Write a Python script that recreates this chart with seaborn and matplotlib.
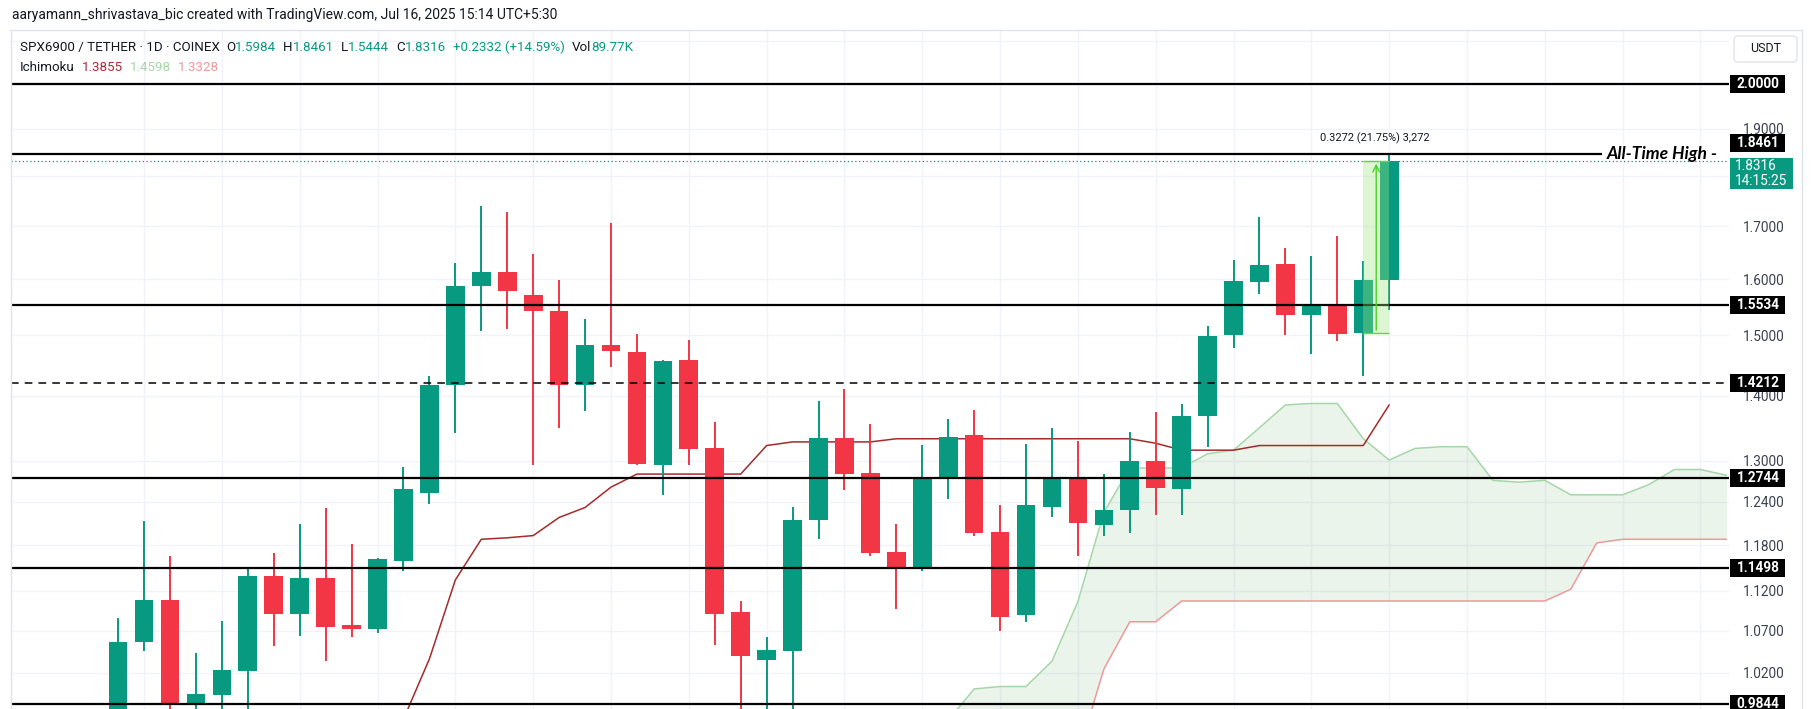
import numpy as np
import matplotlib
matplotlib.use("Agg")
import matplotlib.pyplot as plt
import seaborn as sns
from matplotlib.patches import Rectangle, FancyBboxPatch
from matplotlib.transforms import IdentityTransform
from matplotlib.ticker import FixedLocator, FixedFormatter, NullLocator

# ---------------- data ----------------
opens = [0.960, 1.056, 1.108, 0.983, 0.994, 1.022, 1.139, 1.091, 1.137, 1.077,
         1.072, 1.159, 1.253, 1.417, 1.587, 1.613, 1.571, 1.543, 1.417, 1.484,
         1.472, 1.293, 1.458, 1.319, 1.093, 1.035, 1.045, 1.214, 1.334, 1.282,
         1.171, 1.148, 1.276, 1.339, 1.198, 1.089, 1.232, 1.273, 1.208, 1.229,
         1.300, 1.259, 1.368, 1.500, 1.594, 1.628, 1.535, 1.554, 1.5044, 1.5984]
highs = [1.086, 1.213, 1.165, 1.043, 1.082, 1.150, 1.170, 1.209, 1.231, 1.182,
         1.163, 1.291, 1.432, 1.630, 1.740, 1.728, 1.646, 1.599, 1.529, 1.706,
         1.503, 1.458, 1.492, 1.359, 1.107, 1.062, 1.233, 1.392, 1.411, 1.355,
         1.209, 1.323, 1.364, 1.378, 1.235, 1.325, 1.349, 1.330, 1.280, 1.343,
         1.374, 1.387, 1.517, 1.636, 1.718, 1.658, 1.642, 1.680, 1.633, 1.8461]
lows = [0.930, 1.045, 0.955, 0.950, 0.965, 0.970, 1.051, 1.064, 1.033, 1.062,
        1.067, 1.145, 1.237, 1.341, 1.508, 1.511, 1.294, 1.350, 1.376, 1.447,
        1.294, 1.250, 1.293, 1.053, 0.960, 0.960, 0.965, 1.189, 1.257, 1.165,
        1.097, 1.145, 1.244, 1.192, 1.070, 1.081, 1.218, 1.165, 1.193, 1.197,
        1.222, 1.222, 1.321, 1.479, 1.572, 1.500, 1.469, 1.491, 1.432, 1.5444]
closes = [1.056, 1.108, 0.983, 0.995, 1.023, 1.139, 1.091, 1.137, 1.075, 1.072,
          1.162, 1.258, 1.417, 1.588, 1.613, 1.579, 1.542, 1.417, 1.484, 1.473,
          1.295, 1.457, 1.318, 1.091, 1.040, 1.047, 1.215, 1.334, 1.280, 1.169,
          1.148, 1.273, 1.336, 1.197, 1.087, 1.235, 1.273, 1.210, 1.228, 1.300,
          1.260, 1.368, 1.499, 1.597, 1.626, 1.535, 1.555, 1.503, 1.5984, 1.8316]

base_start = 10
base_line = [0.930, 0.967, 1.036, 1.134, 1.188, 1.190, 1.193, 1.218, 1.232, 1.261,
             1.280, 1.280, 1.280, 1.280, 1.280, 1.3225, 1.328, 1.328, 1.328, 1.328,
             1.3328, 1.3328, 1.3328, 1.3328, 1.3328, 1.3328, 1.3328, 1.3328, 1.3328, 1.3328,
             1.326, 1.3155, 1.3155, 1.3155, 1.3225, 1.3225, 1.3225, 1.3225, 1.3225, 1.3855]

span_start = 32
span_a = [0.9657, 1.001, 1.0038, 1.0038, 1.0333, 1.1062, 1.225, 1.2889, 1.2889, 1.2889,
          1.3101, 1.3155, 1.3497, 1.3854, 1.3877, 1.3877, 1.333, 1.3007, 1.3181, 1.3207,
          1.3207, 1.2709, 1.2682, 1.2709, 1.250, 1.250, 1.250, 1.2645, 1.2867, 1.2867, 1.2783]
span_b = [0.900, 0.900, 0.900, 0.900, 0.900, 0.928, 1.024, 1.081, 1.081, 1.107,
          1.107, 1.107, 1.107, 1.107, 1.107, 1.107, 1.107, 1.107, 1.107, 1.107,
          1.107, 1.107, 1.107, 1.107, 1.122, 1.183, 1.188, 1.188, 1.188, 1.188, 1.188]

solid_levels = [2.0000, 1.5534, 1.2744, 1.1498, 0.9844]
ath_level = 1.8461
dashed_level = 1.4212
last_price = 1.8316
measure_low = 1.5044
measure_text = "0.3272 (21.75%) 3,272"

tick_values = [1.02, 1.07, 1.12, 1.18, 1.24, 1.30, 1.40, 1.50, 1.60, 1.70, 1.80, 1.90, 2.00, 2.10]
tick_labels = ["1.0200", "1.0700", "1.1200", "1.1800", "1.2400", "1.3000", "1.4000",
               "1.5000", "1.6000", "1.7000", "", "1.9000", "", ""]
box_levels = [2.0000, 1.5534, 1.4212, 1.2744, 1.1498, 0.9844]
box_labels = ["2.0000", "1.5534", "1.4212", "1.2744", "1.1498", "0.9844"]

# ---------------- style ----------------
W, H = 1814, 709
sns.set_theme(style="white")
plt.rcParams['font.family'] = ['Roboto', 'DejaVu Sans']
UP, DOWN, TXT = "#089981", "#F23645", "#131722"
GRID = "#f0f3fa"

fig = plt.figure(figsize=(W / 100, H / 100), dpi=100)
fig.patch.set_facecolor("white")
ax = fig.add_axes([11 / W, 0, (1729 - 11) / W, (709 - 30) / H])
ax.set_facecolor("white")
ax.set_yscale("log")
ax.set_xlim(-4.13, 62.1)
ax.set_ylim(0.9783, 2.1276)

ax.yaxis.set_major_locator(FixedLocator(tick_values))
ax.yaxis.set_major_formatter(FixedFormatter(tick_labels))
ax.yaxis.set_minor_locator(NullLocator())
ax.yaxis.tick_right()
ax.set_xticks(np.arange(1, 63, 3))
ax.tick_params(axis="both", length=0)
ax.tick_params(axis="x", labelbottom=False)
ax.tick_params(axis="y", labelsize=9.8, labelcolor="#3d4150", pad=10)
ax.grid(True, color=GRID, lw=1)
for s in ax.spines.values():
    s.set_visible(False)

# ---------------- ichimoku cloud ----------------
xs = np.arange(span_start, span_start + len(span_a))
a_arr, b_arr = np.array(span_a), np.array(span_b)
ax.fill_between(xs, b_arr, a_arr, where=a_arr >= b_arr, interpolate=True,
                color="#43A047", alpha=0.11, lw=0, zorder=1)
sns.lineplot(x=xs, y=a_arr, ax=ax, color="#A5D6A7", lw=1.1, zorder=2)
sns.lineplot(x=xs, y=b_arr, ax=ax, color="#EF9A9A", lw=1.1, zorder=2)
xb = np.arange(base_start, base_start + len(base_line))
sns.lineplot(x=xb, y=base_line, ax=ax, color="#A52A2A", lw=1.1, zorder=2)

# ---------------- candles ----------------
o, h, l, c = map(np.array, (opens, highs, lows, closes))
x = np.arange(len(o))
cols = np.where(c >= o, UP, DOWN)
ax.vlines(x, l, h, colors=cols, lw=1.4, zorder=3)
ax.bar(x, np.abs(c - o), bottom=np.minimum(o, c), width=0.72, color=cols, lw=0, zorder=4)

# ---------------- horizontal levels ----------------
for lv in solid_levels:
    ax.axhline(lv, color="black", lw=1.6, zorder=5)
ax.hlines(ath_level, -5, 57.2, color="black", lw=1.6, zorder=5)
ax.axhline(dashed_level, color="black", lw=1.1, ls=(0, (5, 4)), zorder=5)
ax.axhline(last_price, color=UP, lw=0.9, ls=(0, (1, 2)), zorder=5)
ax.text(57.4, ath_level, "All-Time High -", ha="left", va="center", fontsize=12.6,
        fontstyle="italic", fontweight="bold", family=["Lato", "DejaVu Sans"], color="black",
        zorder=6)

# ---------------- measure tool ----------------
n = len(o)
ax.add_patch(Rectangle((n - 2, measure_low), 1, last_price - measure_low,
                       facecolor="#9be77f", alpha=0.35, lw=0, zorder=6))
ax.hlines([measure_low, last_price], n - 2, n - 1, color="#5fd83a", lw=1, zorder=7)
ax.annotate("", xy=(n - 1.5, last_price), xytext=(n - 1.5, measure_low),
            arrowprops=dict(arrowstyle="->", color="#4cd12b", lw=1), zorder=7)
ax.text(n - 1.55, 1.880, measure_text, ha="center", va="center", fontsize=7.9, color=TXT)

# ---------------- right price scale boxes ----------------
I = IdentityTransform()


def ypx(v):
    return ax.transData.transform((0, v))[1]


def black_box(yc, label):
    fig.add_artist(Rectangle((1730, yc - 9), 55, 18, transform=I, facecolor="black",
                             edgecolor="none", zorder=10))
    fig.text(1758, yc, label, transform=I, ha="center", va="center", color="white",
             fontsize=9.8, fontweight="bold", zorder=11)


for v, lab in zip(box_levels, box_labels):
    black_box(ypx(v), lab)
y_ath = ypx(ath_level)
black_box(y_ath + 11, "1.8461")
y_lp = ypx(last_price)
fig.add_artist(Rectangle((1730, y_lp - 28), 63, 31, transform=I, facecolor=UP,
                         edgecolor="none", zorder=10))
fig.text(1735, y_lp - 5, "1.8316", transform=I, ha="left", va="center", color="white",
         fontsize=9.8, zorder=11)
fig.text(1735, y_lp - 20, "14:15:25", transform=I, ha="left", va="center", color="white",
         fontsize=9.8, zorder=11)

# USDT button
fig.add_artist(FancyBboxPatch((1734, H - 62), 63, 26, boxstyle="round,pad=0,rounding_size=4",
                              transform=I, facecolor="white", edgecolor="#e0e3eb", lw=1))
fig.text(1765.5, H - 49, "USDT", transform=I, ha="center", va="center", color=TXT, fontsize=9)

# panel frame
fig.add_artist(plt.Line2D([10, 1802], [H - 30, H - 30], transform=I, color="#e0e3eb", lw=1))
fig.add_artist(plt.Line2D([11, 11], [0, H - 30], transform=I, color="#e0e3eb", lw=1))
fig.add_artist(plt.Line2D([1802, 1802], [0, H - 30], transform=I, color="#e0e3eb", lw=1))

# ---------------- header texts ----------------
fig.text(12, H - 15, "aaryamann_shrivastava_bic created with TradingView.com, Jul 16, 2025 15:14 UTC+5:30",
         transform=I, ha="left", va="center", color=TXT, fontsize=10)


def chain(parts, x0, y0, size):
    t = fig.text(x0, y0, parts[0][0], transform=I, ha="left", va="baseline",
                 color=parts[0][1], fontsize=size)
    for s, col, gap in parts[1:]:
        t = ax.annotate(s, xy=(1, 0), xycoords=t, xytext=(gap, 0), textcoords="offset pixels",
                        ha="left", va="bottom", color=col, fontsize=size,
                        annotation_clip=False)
    return t


chain([("SPX6900 / TETHER · 1D · COINEX", TXT),
       ("O", TXT, 6), ("1.5984", UP, 0), ("H", TXT, 7), ("1.8461", UP, 0),
       ("L", TXT, 7), ("1.5444", UP, 0), ("C", TXT, 7), ("1.8316", UP, 0),
       ("+0.2332 (+14.59%)", UP, 7), ("Vol", TXT, 7), ("89.77K", UP, 0)],
      20, H - 51, 9.6)
chain([("Ichimoku", TXT), ("1.3855", "#B22833", 7), ("1.4598", "#A5D6A7", 7),
       ("1.3328", "#EF9A9A", 7)], 20, H - 71, 9.6)

fig.savefig("out.png", dpi=100, facecolor="white")
